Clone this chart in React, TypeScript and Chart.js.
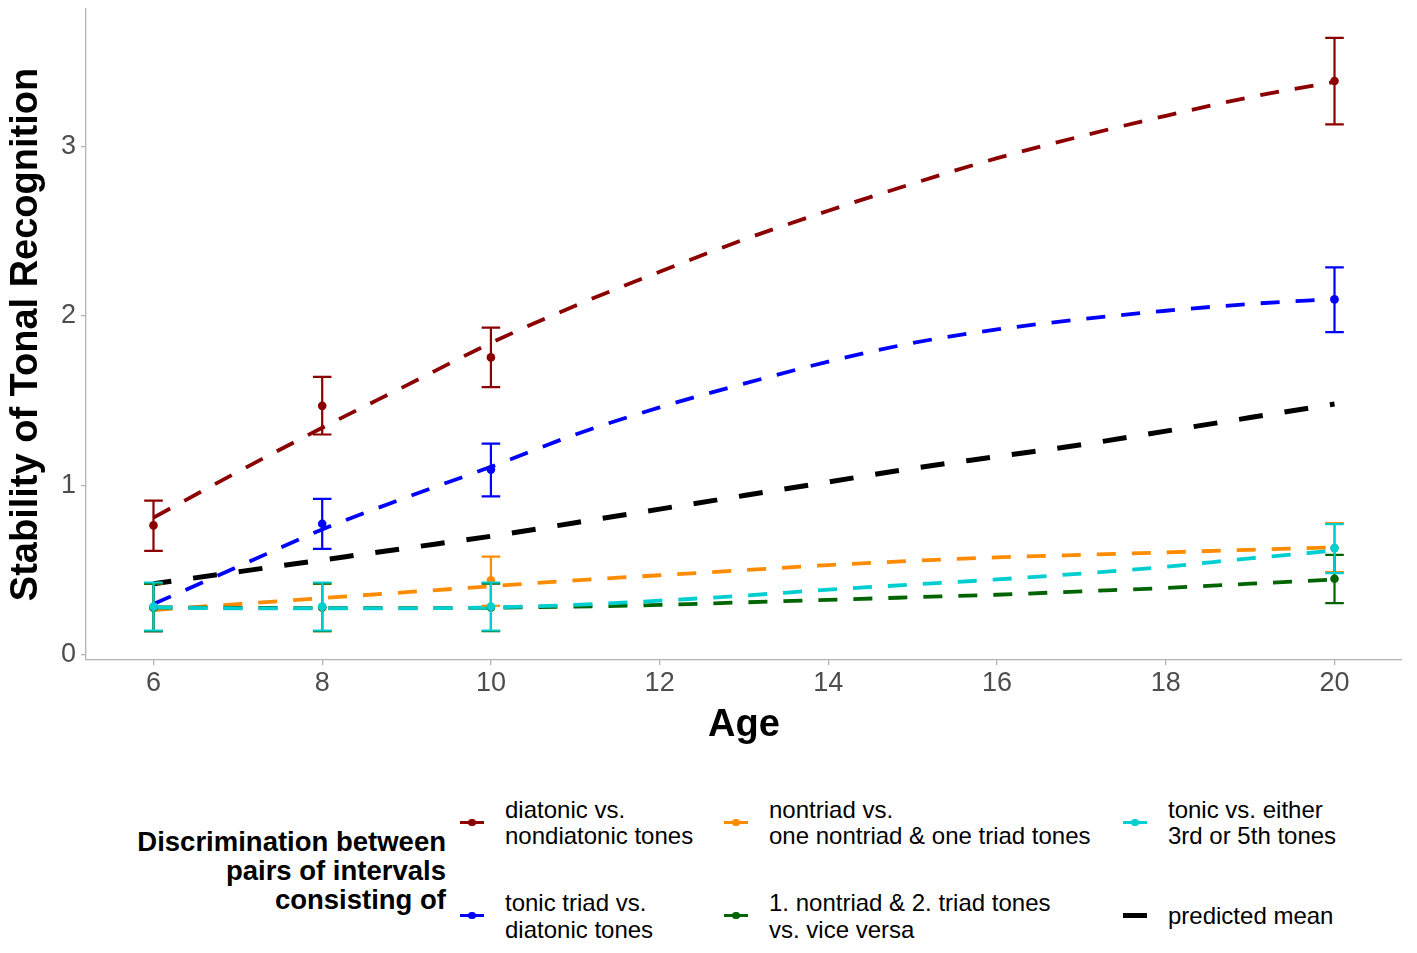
import React, { useEffect, useRef } from "react";
import { Chart, registerables } from "chart.js";

Chart.register(...registerables);

// ---------- data ----------
const curveAges = [6, 7, 8, 9, 10, 11, 12, 13, 14, 15, 16, 17, 18, 19, 20];
const diatonicCurve = [0.81, 1.08, 1.34, 1.59, 1.84, 2.06, 2.26, 2.45, 2.62, 2.78, 2.93, 3.06, 3.18, 3.29, 3.38];
const triadCurve = [0.3, 0.52, 0.74, 0.93, 1.11, 1.3, 1.46, 1.6, 1.73, 1.84, 1.92, 1.98, 2.03, 2.07, 2.1];
const nontriadCurve = [0.265, 0.3, 0.335, 0.37, 0.405, 0.44, 0.47, 0.5, 0.53, 0.555, 0.575, 0.59, 0.605, 0.62, 0.635];
const viceVersaCurve = [0.28, 0.278, 0.276, 0.276, 0.278, 0.285, 0.295, 0.31, 0.325, 0.34, 0.355, 0.375, 0.395, 0.42, 0.445];
const tonic35Curve = [0.28, 0.275, 0.275, 0.275, 0.28, 0.295, 0.32, 0.35, 0.385, 0.415, 0.445, 0.48, 0.52, 0.57, 0.615];
const meanCurve = [0.42, 0.49, 0.56, 0.63, 0.7, 0.78, 0.86, 0.94, 1.02, 1.1, 1.17, 1.24, 1.32, 1.4, 1.48];

const pointAges = [6, 8, 10, 20];
const diatonicPts = [0.764, 1.469, 1.755, 3.385];
const diatonicLo = [0.614, 1.3, 1.58, 3.13];
const diatonicHi = [0.91, 1.64, 1.93, 3.64];
const triadPts = [0.28, 0.774, 1.093, 2.097];
const triadLo = [0.14, 0.626, 0.935, 1.904];
const triadHi = [0.42, 0.92, 1.246, 2.286];
const nontriadPts = [0.28, 0.28, 0.44, 0.63];
const nontriadLo = [0.14, 0.14, 0.29, 0.488];
const nontriadHi = [0.42, 0.42, 0.58, 0.777];
const viceVersaPts = [0.28, 0.28, 0.28, 0.449];
const viceVersaLo = [0.14, 0.14, 0.14, 0.305];
const viceVersaHi = [0.42, 0.42, 0.42, 0.59];
const tonic35Pts = [0.285, 0.285, 0.285, 0.63];
const tonic35Lo = [0.144, 0.144, 0.144, 0.482];
const tonic35Hi = [0.427, 0.427, 0.427, 0.771];

const xTicks = [6, 8, 10, 12, 14, 16, 18, 20];
const yTicks = [0, 1, 2, 3];

const COLORS = {
  diatonic: "#8B0000",
  triad: "#0000FF",
  nontriad: "#FF8C00",
  vice: "#006400",
  tonic35: "#00CED1",
  mean: "#000000",
};

const legendTitleLines = ["Discrimination between", "pairs of intervals", "consisting of"];
const legendLabels = [
  ["diatonic vs.", "nondiatonic tones"],
  ["tonic triad vs.", "diatonic tones"],
  ["nontriad vs.", "one nontriad & one triad tones"],
  ["1. nontriad & 2. triad tones", "vs. vice versa"],
  ["tonic vs. either", "3rd or 5th tones"],
  ["predicted mean"],
];

const FONT = '"Liberation Sans", Arial, Helvetica, sans-serif';

const toXY = (xs: number[], ys: number[]) => xs.map((x, i) => ({ x, y: ys[i] }));

const errorBarPlugin = {
  id: "errorBars",
  beforeDatasetDraw(chart: any, args: any) {
    const ds = chart.data.datasets[args.index];
    if (!ds.errLo) return;
    const xs = chart.scales.x;
    const ys = chart.scales.y;
    const ctx = chart.ctx;
    ctx.save();
    ctx.strokeStyle = ds.errColor;
    ctx.lineWidth = 2.2;
    ctx.setLineDash([]);
    ds.data.forEach((p: any, i: number) => {
      const px = xs.getPixelForValue(p.x);
      const half = xs.getPixelForValue(p.x + 0.11) - px;
      const y1 = ys.getPixelForValue(ds.errLo[i]);
      const y2 = ys.getPixelForValue(ds.errHi[i]);
      ctx.beginPath();
      ctx.moveTo(px, y1);
      ctx.lineTo(px, y2);
      ctx.moveTo(px - half, y1);
      ctx.lineTo(px + half, y1);
      ctx.moveTo(px - half, y2);
      ctx.lineTo(px + half, y2);
      ctx.stroke();
    });
    ctx.restore();
  },
};

function curveDs(data: number[], color: string, order: number, thick = false) {
  return {
    type: "line",
    data: toXY(curveAges, data),
    borderColor: color,
    borderWidth: thick ? 5 : 3.8,
    borderDash: thick ? [24, 22] : [19, 16],
    borderDashOffset: thick ? 6 : 0,
    pointRadius: 0,
    fill: false,
    cubicInterpolationMode: "monotone",
    order,
  };
}

function pointDs(data: number[], lo: number[], hi: number[], color: string, order: number) {
  return {
    type: "line",
    data: toXY(pointAges, data),
    showLine: false,
    pointRadius: 4.3,
    pointBorderWidth: 0,
    pointBackgroundColor: color,
    borderColor: color,
    errLo: lo,
    errHi: hi,
    errColor: color,
    order,
  };
}

function ChartCanvas() {
  const ref = useRef<HTMLCanvasElement | null>(null);
  useEffect(() => {
    if (!ref.current) return;
    const chart = new Chart(ref.current, {
      type: "line",
      data: {
        datasets: [
          curveDs(diatonicCurve, COLORS.diatonic, 20),
          curveDs(triadCurve, COLORS.triad, 19),
          curveDs(nontriadCurve, COLORS.nontriad, 18),
          curveDs(viceVersaCurve, COLORS.vice, 17),
          curveDs(tonic35Curve, COLORS.tonic35, 16),
          curveDs(meanCurve, COLORS.mean, 15, true),
          pointDs(diatonicPts, diatonicLo, diatonicHi, COLORS.diatonic, 10),
          pointDs(triadPts, triadLo, triadHi, COLORS.triad, 9),
          pointDs(nontriadPts, nontriadLo, nontriadHi, COLORS.nontriad, 8),
          pointDs(viceVersaPts, viceVersaLo, viceVersaHi, COLORS.vice, 7),
          pointDs(tonic35Pts, tonic35Lo, tonic35Hi, COLORS.tonic35, 6),
        ] as any,
      },
      options: {
        responsive: false,
        animation: false,
        events: [],
        layout: { padding: { top: 9, right: 15, left: 0, bottom: 0 } },
        plugins: { legend: { display: false }, tooltip: { enabled: false }, title: { display: false } },
        scales: {
          x: {
            type: "linear",
            min: 5.2,
            max: 20.8,
            afterBuildTicks: (axis: any) => {
              axis.ticks = xTicks.map((v) => ({ value: v }));
            },
            afterFit: (axis: any) => {
              axis.height = 100;
              axis.paddingLeft = 0;
              axis.paddingRight = 0;
            },
            grid: { drawOnChartArea: false, drawTicks: true, tickLength: 5, color: "#b3b3b3", lineWidth: 1.3 },
            border: { display: true, color: "#b3b3b3", width: 1.3 },
            ticks: {
              color: "#4d4d4d",
              font: { family: FONT, size: 27 },
              padding: 2,
              maxRotation: 0,
              autoSkip: false,
            },
            title: {
              display: true,
              text: "Age",
              color: "#000",
              font: { family: FONT, size: 38, weight: "bold" },
              padding: { top: 0, bottom: 12 },
            },
          },
          y: {
            type: "linear",
            min: -0.03,
            max: 3.81,
            afterBuildTicks: (axis: any) => {
              axis.ticks = yTicks.map((v) => ({ value: v }));
            },
            afterFit: (axis: any) => {
              axis.width = 86;
              axis.paddingTop = 0;
              axis.paddingBottom = 0;
            },
            grid: { drawOnChartArea: false, drawTicks: true, tickLength: 5, color: "#b3b3b3", lineWidth: 1.3 },
            border: { display: true, color: "#b3b3b3", width: 1.3 },
            ticks: {
              color: "#4d4d4d",
              font: { family: FONT, size: 27 },
              padding: 5,
              autoSkip: false,
            },
            title: {
              display: true,
              text: "Stability of Tonal Recognition",
              color: "#000",
              font: { family: FONT, size: 38, weight: "bold" },
              padding: { top: 4, bottom: 0 },
            },
          },
        },
      } as any,
      plugins: [errorBarPlugin as any],
    });
    return () => chart.destroy();
  }, []);
  return (
    <canvas
      ref={ref}
      width={1417}
      height={760}
      style={{ position: "absolute", left: 0, top: 0, width: 1417, height: 760 }}
    />
  );
}

function Key({ left, top, color, dot, thick }: { left: number; top: number; color: string; dot: boolean; thick?: boolean }) {
  const h = thick ? 5 : 3.6;
  return (
    <div style={{ position: "absolute", left, top, width: 24, height: 0 }}>
      <div style={{ position: "absolute", left: 0, top: -h / 2, width: 24, height: h, background: color }} />
      {dot && (
        <div
          style={{
            position: "absolute",
            left: 12 - 3.6,
            top: -3.6,
            width: 7.2,
            height: 7.2,
            borderRadius: "50%",
            background: color,
          }}
        />
      )}
    </div>
  );
}

function LegendText({ left, top, lines }: { left: number; top: number; lines: string[] }) {
  return (
    <div
      style={{
        position: "absolute",
        left,
        top,
        fontSize: 24,
        lineHeight: "26.5px",
        color: "#000",
        whiteSpace: "nowrap",
      }}
    >
      {lines.map((l, i) => (
        <div key={i}>{l}</div>
      ))}
    </div>
  );
}

export default function App() {
  const keyColors = [COLORS.diatonic, COLORS.triad, COLORS.nontriad, COLORS.vice, COLORS.tonic35, COLORS.mean];
  const colKeyX = [460, 724, 1123];
  const colTextX = [505, 769, 1168];
  const rowKeyY = [822.3, 915.7];
  const rowTextTop = [796.8, 890];
  return (
    <div
      style={{
        position: "absolute",
        left: 0,
        top: 0,
        width: 1417,
        height: 953,
        background: "#fff",
        fontFamily: FONT,
        overflow: "hidden",
      }}
    >
      <ChartCanvas />
      <div
        style={{
          position: "absolute",
          left: 0,
          top: 827,
          width: 446,
          textAlign: "right",
          fontSize: 27.5,
          fontWeight: "bold",
          lineHeight: "29.2px",
          color: "#000",
          whiteSpace: "nowrap",
        }}
      >
        {legendTitleLines.map((l, i) => (
          <div key={i}>{l}</div>
        ))}
      </div>
      {legendLabels.map((lines, i) => {
        const col = Math.floor(i / 2);
        const row = i % 2;
        const isMean = i === 5;
        const textTop = isMean ? 916.7 - 13.25 : rowTextTop[row];
        return (
          <React.Fragment key={i}>
            <Key left={colKeyX[col]} top={rowKeyY[row]} color={keyColors[i]} dot={!isMean} thick={isMean} />
            <LegendText left={colTextX[col]} top={textTop} lines={lines} />
          </React.Fragment>
        );
      })}
    </div>
  );
}
